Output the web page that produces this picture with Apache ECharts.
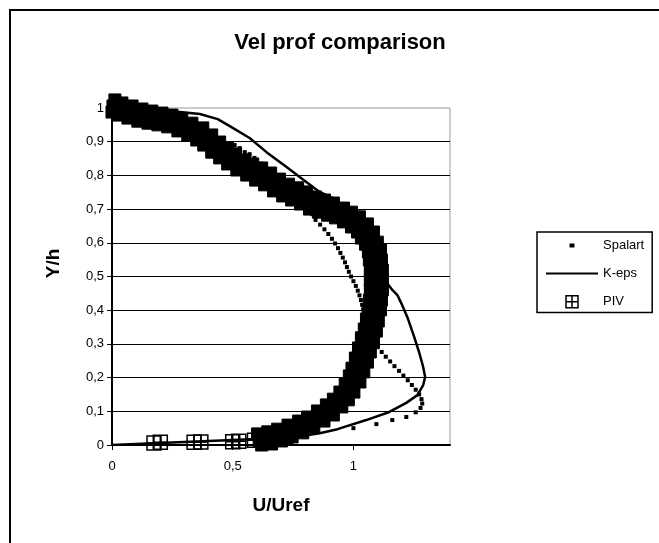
<!DOCTYPE html>
<html>
<head>
<meta charset="UTF-8">
<title>Vel prof comparison</title>
<script src="https://cdn.jsdelivr.net/npm/echarts@6/dist/echarts.min.js"></script>
<style>html,body{margin:0;padding:0;background:#fff}</style>
</head>
<body>
<div id="main" style="width:659px;height:543px;"></div>
<script>
// Spalart profile [U/Uref, Y/h]
var spalartPts = [
  [0.60, 0.020], [0.80, 0.035],
  [1.000, 0.050], [1.095, 0.062], [1.161, 0.074], [1.219, 0.083],
  [1.258, 0.097], [1.278, 0.110], [1.285, 0.123], [1.282, 0.136], [1.272, 0.150],
  [1.258, 0.164], [1.242, 0.178], [1.225, 0.192], [1.207, 0.206], [1.189, 0.220],
  [1.170, 0.234], [1.152, 0.248], [1.134, 0.262], [1.117, 0.276], [1.100, 0.290],
  [1.085, 0.304], [1.072, 0.318], [1.062, 0.332], [1.055, 0.346], [1.050, 0.360],
  [1.046, 0.374], [1.043, 0.388], [1.040, 0.402], [1.036, 0.416], [1.031, 0.430],
  [1.025, 0.444], [1.018, 0.458], [1.010, 0.472], [1.000, 0.486], [0.990, 0.500],
  [0.981, 0.514], [0.973, 0.528], [0.965, 0.542], [0.956, 0.556], [0.946, 0.570],
  [0.936, 0.584], [0.924, 0.598], [0.911, 0.612], [0.896, 0.626], [0.880, 0.640],
  [0.862, 0.654], [0.843, 0.668], [0.830, 0.685], [0.800, 0.705], [0.770, 0.725],
  [0.730, 0.748], [0.700, 0.770], [0.670, 0.795], [0.645, 0.815], [0.620, 0.835],
  [0.590, 0.852], [0.570, 0.863], [0.550, 0.869], [0.529, 0.881], [0.508, 0.890],
  [0.450, 0.910], [0.380, 0.930], [0.280, 0.955], [0.150, 0.975], [0.000, 0.995]
];

// K-eps profile
var kepsPts = [
  [0, 0], [0.2, 0.006], [0.4, 0.012], [0.6, 0.018], [0.78, 0.026], [0.86, 0.035],
  [0.934, 0.047], [1.053, 0.074], [1.149, 0.098], [1.219, 0.125], [1.265, 0.148],
  [1.289, 0.178], [1.297, 0.202], [1.289, 0.231], [1.273, 0.273], [1.252, 0.320],
  [1.223, 0.380], [1.198, 0.421], [1.182, 0.445], [1.161, 0.460], [1.140, 0.480],
  [1.128, 0.543], [1.100, 0.593], [1.025, 0.665], [0.930, 0.727], [0.860, 0.751],
  [0.806, 0.780], [0.723, 0.825], [0.640, 0.869], [0.570, 0.911], [0.500, 0.941],
  [0.438, 0.967], [0.364, 0.982], [0.200, 0.994], [0, 1.0]
];

// PIV measurements (dense band of points)
var pivMid = [
  [0.004, 1.006], [0.033, 0.997], [0.074, 0.988], [0.116, 0.979], [0.157, 0.973],
  [0.198, 0.967], [0.240, 0.961], [0.281, 0.950], [0.322, 0.938], [0.364, 0.923],
  [0.397, 0.905], [0.430, 0.884], [0.463, 0.866], [0.496, 0.849], [0.533, 0.831],
  [0.570, 0.819], [0.607, 0.804], [0.645, 0.789], [0.682, 0.772], [0.719, 0.757],
  [0.756, 0.745], [0.793, 0.733], [0.831, 0.718], [0.868, 0.709], [0.905, 0.700],
  [0.942, 0.688], [0.975, 0.677], [1.008, 0.662], [1.037, 0.644], [1.058, 0.623],
  [1.074, 0.599], [1.087, 0.576], [1.091, 0.549], [1.095, 0.519], [1.095, 0.490],
  [1.095, 0.460], [1.091, 0.430], [1.087, 0.401], [1.079, 0.371], [1.070, 0.341],
  [1.058, 0.312], [1.045, 0.282], [1.033, 0.252], [1.017, 0.223], [1.004, 0.196],
  [0.985, 0.169], [0.963, 0.145], [0.936, 0.125], [0.903, 0.104], [0.864, 0.086],
  [0.822, 0.068], [0.781, 0.053], [0.738, 0.042], [0.694, 0.030], [0.653, 0.021],
  [0.612, 0.015]
];
var pivOuter = [
  [0.012, 1.024], [0.041, 1.015], [0.083, 1.006], [0.124, 0.997], [0.165, 0.991],
  [0.207, 0.985], [0.248, 0.979], [0.289, 0.967], [0.331, 0.955], [0.376, 0.941],
  [0.413, 0.920], [0.446, 0.899], [0.479, 0.881], [0.512, 0.864], [0.550, 0.846],
  [0.583, 0.834], [0.620, 0.822], [0.657, 0.807], [0.694, 0.789], [0.731, 0.774],
  [0.769, 0.763], [0.806, 0.751], [0.843, 0.736], [0.880, 0.727], [0.917, 0.718],
  [0.959, 0.703], [0.992, 0.691], [1.025, 0.677], [1.058, 0.656], [1.083, 0.632],
  [1.099, 0.602], [1.112, 0.579], [1.116, 0.549], [1.120, 0.519], [1.120, 0.490],
  [1.120, 0.460], [1.116, 0.430], [1.112, 0.401], [1.103, 0.368], [1.095, 0.338],
  [1.083, 0.306], [1.070, 0.276], [1.058, 0.246], [1.043, 0.217], [1.027, 0.187],
  [1.002, 0.157], [0.979, 0.134], [0.952, 0.113], [0.917, 0.089], [0.878, 0.071],
  [0.836, 0.053], [0.790, 0.036], [0.746, 0.024], [0.702, 0.012], [0.661, 0.003],
  [0.620, 0.000]
];
var pivInner = [
  [0.000, 0.988], [0.025, 0.979], [0.066, 0.970], [0.107, 0.961], [0.149, 0.955],
  [0.190, 0.950], [0.231, 0.944], [0.273, 0.932], [0.314, 0.920], [0.351, 0.905],
  [0.380, 0.890], [0.413, 0.869], [0.446, 0.852], [0.479, 0.834], [0.517, 0.816],
  [0.558, 0.801], [0.595, 0.786], [0.632, 0.772], [0.669, 0.754], [0.707, 0.739],
  [0.744, 0.727], [0.781, 0.715], [0.818, 0.700], [0.855, 0.691], [0.893, 0.682],
  [0.926, 0.674], [0.959, 0.662], [0.992, 0.647], [1.017, 0.632], [1.033, 0.614],
  [1.050, 0.596], [1.062, 0.573], [1.066, 0.549], [1.070, 0.519], [1.070, 0.490],
  [1.070, 0.460], [1.066, 0.430], [1.062, 0.401], [1.054, 0.374], [1.045, 0.344],
  [1.033, 0.318], [1.021, 0.288], [1.008, 0.258], [0.994, 0.228], [0.983, 0.205],
  [0.966, 0.181], [0.944, 0.157], [0.917, 0.136], [0.888, 0.119], [0.851, 0.101],
  [0.810, 0.083], [0.773, 0.071], [0.729, 0.059], [0.686, 0.047], [0.645, 0.039],
  [0.603, 0.033]
];
var pivWall = [
  [0.174, 0.006], [0.200, 0.008], [0.340, 0.008], [0.368, 0.009], [0.500, 0.010],
  [0.525, 0.011], [0.590, 0.014], [0.615, 0.015], [0.660, 0.020], [0.690, 0.022],
  [0.720, 0.026]
];

var font = 'Liberation Sans, Arial, sans-serif'
var pivSymbol = 'path://M0,0H10V10H0Z M5,0V10 M0,5H10'
var hollow = { color: 'rgba(0,0,0,0)', borderColor: '#000', borderWidth: 1.5, opacity: 1 }
function comma(v) { return String(v).replace('.', ',') }

// band points drawn filled (they overlap into a solid band), wall points stay open
var pivData = pivOuter.concat(pivMid, pivInner).map(function (p) { return { value: p } })
  .concat(pivWall.map(function (p) { return { value: p, symbolSize: 14, itemStyle: hollow } }))

var myChart = echarts.init(document.getElementById('main'))
myChart.setOption({
  animation: false,
  backgroundColor: '#fff',
  textStyle: { fontFamily: font, color: '#000' },
  graphic: [{
    type: 'rect', silent: true, z: -10,
    shape: { x: 10, y: 10, width: 700, height: 600 },
    style: { fill: 'none', stroke: '#000', lineWidth: 2 }
  }],
  title: {
    text: 'Vel prof comparison',
    left: 340, top: 32, textAlign: 'center', padding: 0,
    textStyle: { fontFamily: font, fontSize: 22, fontWeight: 'bold', color: '#000' }
  },
  legend: {
    orient: 'vertical', left: 537, top: 232,
    padding: [7, 8, 4, 8], itemGap: 15, itemWidth: 52, itemHeight: 12,
    borderColor: '#000', borderWidth: 1.5, align: 'left',
    textStyle: { fontFamily: font, fontSize: 13, color: '#000' },
    data: [
      { name: 'Spalart', icon: 'path://M0,0M12,12M3.5,4h5v4h-5z', itemStyle: { opacity: 1 } },
      { name: 'K-eps', itemStyle: { color: 'rgba(0,0,0,0)', borderWidth: 0, opacity: 0 } },
      { name: 'PIV', icon: pivSymbol, itemStyle: hollow }
    ]
  },
  grid: { left: 112, top: 108, width: 338, height: 337, show: true, borderColor: '#999', borderWidth: 1 },
  xAxis: {
    type: 'value', min: 0, max: 1.4, interval: 0.5,
    name: 'U/Uref', nameLocation: 'middle', nameGap: 51,
    nameTextStyle: { fontFamily: font, fontSize: 19, fontWeight: 'bold', color: '#000' },
    axisLine: { lineStyle: { color: '#000', width: 2 } },
    axisTick: { show: true, inside: false, length: 5, lineStyle: { color: '#000' } },
    axisLabel: { margin: 15, fontSize: 13, color: '#000', fontFamily: font, showMaxLabel: false, formatter: comma },
    splitLine: { show: false }
  },
  yAxis: {
    type: 'value', min: 0, max: 1, interval: 0.1,
    name: 'Y/h', nameLocation: 'middle', nameGap: 49,
    nameTextStyle: { fontFamily: font, fontSize: 19, fontWeight: 'bold', color: '#000', padding: [0, 0, 0, 26] },
    axisLine: { show: true, lineStyle: { color: '#000', width: 2 } },
    axisTick: { show: true, inside: false, length: 5, lineStyle: { color: '#000' } },
    axisLabel: { margin: 8, fontSize: 13, color: '#000', fontFamily: font,
      formatter: function (v) { return comma(Math.round(v * 10) / 10) } },
    splitLine: { show: true, showMaxLine: false, lineStyle: { color: '#000', width: 1 } }
  },
  series: [
    {
      name: 'Spalart', type: 'scatter', data: spalartPts,
      symbol: 'rect', symbolSize: 4, clip: false,
      itemStyle: { color: '#000', opacity: 1 }
    },
    {
      name: 'K-eps', type: 'line', data: kepsPts,
      symbol: 'none', smooth: false,
      lineStyle: { color: '#000', width: 2.5 }, itemStyle: { color: '#000' }
    },
    {
      name: 'PIV', type: 'scatter', data: pivData,
      symbol: pivSymbol, symbolSize: 12, clip: false,
      itemStyle: { color: '#000', borderColor: '#000', borderWidth: 1, opacity: 1 }
    }
  ]
})
</script>
</body>
</html>
